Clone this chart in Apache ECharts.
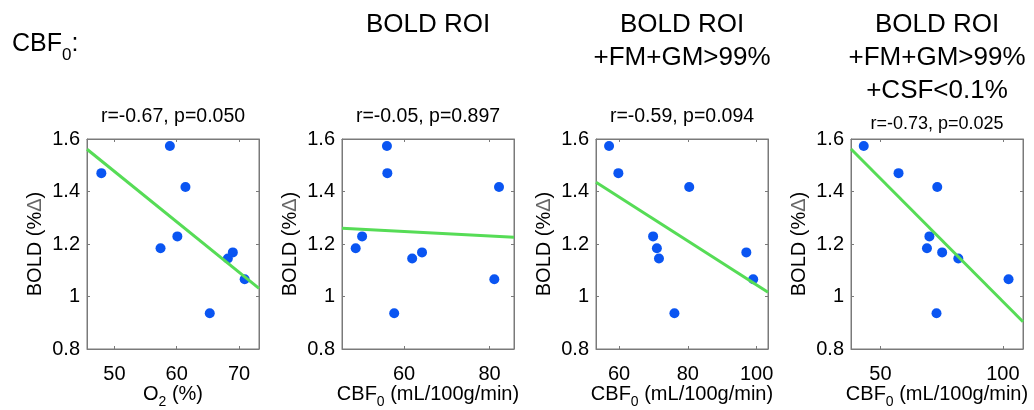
<!DOCTYPE html>
<html><head><meta charset="utf-8">
<script src="https://cdn.jsdelivr.net/npm/echarts@6/dist/echarts.min.js"></script>
<style>html,body{margin:0;padding:0;background:#fff}#c{width:1034px;height:410px}</style>
</head><body><div id="c"></div>
<script>
// BOLD response (% change) for the 9 subjects, same order in every panel
const boldY   = [1.573, 1.470, 1.417, 1.229, 1.184, 1.168, 1.145, 1.066, 0.936];
const boldY1  = [1.573, 1.470, 1.417, 1.229, 1.184, 1.168, 1.145, 1.066, 0.936];
// x values per panel
const o2X     = [58.9, 47.9, 61.4, 60.1, 57.4, 69.0, 68.2, 70.9, 65.3];
const cbfRoiX = [56.0, 56.1, 82.2, 50.2, 48.7, 64.2, 61.9, 81.1, 57.7];
const cbfGmX  = [57.1, 59.8, 80.4, 69.9, 71.0, 97.0, 71.6, 99.0, 76.1];
const cbfCsfX = [43.2, 57.4, 73.2, 70.0, 69.0, 75.2, 81.8, 102.3, 72.9];
// fitted regression lines (endpoints)
const fit1X = [45.6, 73.2],  fit1Y = [1.561, 1.031];
const fit2X = [45.5, 85.7],  fit2Y = [1.260, 1.226];
const fit3X = [53.3, 103.3], fit3Y = [1.435, 1.016];
const fit4X = [38.0, 108.2], fit4Y = [1.562, 0.904];
// axis ranges & ticks
const xMin = [45.6, 45.5, 53.3, 38.0];
const xMax = [73.2, 85.7, 103.3, 108.2];
const xTicks1 = [50, 60, 70];
const xTicks2 = [60, 80];
const xTicks3 = [60, 80, 100];
const xTicks4 = [50, 100];
const yTicks = [0.8, 1, 1.2, 1.4, 1.6];
const yMin = 0.8, yMax = 1.6;
// texts
const statLabels = ['r=-0.67, p=0.050', 'r=-0.05, p=0.897', 'r=-0.59, p=0.094', 'r=-0.73, p=0.025'];
const panelTitles = ['', 'BOLD ROI', 'BOLD ROI\n+FM+GM>99%', 'BOLD ROI\n+FM+GM>99%\n+CSF<0.1%'];
const xNameMain = ['O', 'CBF', 'CBF', 'CBF'];
const xNameSub = ['2', '0', '0', '0'];
const xNameRest = [' (%)', ' (mL/100g/min)', ' (mL/100g/min)', ' (mL/100g/min)'];

const xs = [o2X, cbfRoiX, cbfGmX, cbfCsfX];
const ys = [boldY1, boldY, boldY, boldY];
const fitXs = [fit1X, fit2X, fit3X, fit4X];
const fitYs = [fit1Y, fit2Y, fit3Y, fit4Y];
const xTickSets = [xTicks1, xTicks2, xTicks3, xTicks4];

const FONT = '"Liberation Sans", Arial, Helvetica, sans-serif';
const BOX = '#7a7a7a';
const BLUE = '#0a55f2';
const GREEN = '#56dc56';
const gridLefts = [87, 342, 596, 851];
const GW = 172, GT = 139, GH = 210;

const grid = [], xAxis = [], yAxis = [], series = [], graphic = [];
for (let i = 0; i < 4; i++) {
  grid.push({left: gridLefts[i], top: GT, width: GW, height: GH, show: true,
    borderColor: BOX, borderWidth: 1, backgroundColor: '#fff', containLabel: false,
    outerBoundsMode: 'none'});
  const commonX = {type: 'value', gridIndex: i, min: xMin[i], max: xMax[i], splitLine: {show: false},
    axisLine: {show: true, onZero: false, lineStyle: {color: BOX, width: 1}}};
  xAxis.push(Object.assign({}, commonX, {
    position: 'bottom',
    axisTick: {show: true, inside: true, length: 3, customValues: xTickSets[i], lineStyle: {color: BOX}},
    axisLabel: {show: true, customValues: xTickSets[i], color: '#000', fontSize: 20, fontFamily: FONT, margin: 15},
    name: '{m|' + xNameMain[i] + '}{s|' + xNameSub[i] + '}{m|' + xNameRest[i] + '}',
    nameLocation: 'middle', nameGap: 30, nameMoveOverlap: false,
    nameTextStyle: {color: '#000', fontFamily: FONT, rich: {
      m: {fontSize: 20, lineHeight: 30, fontFamily: FONT, color: '#000'},
      s: {fontSize: 14, lineHeight: 10, verticalAlign: 'bottom', fontFamily: FONT, color: '#000'}}}
  }));
  xAxis.push(Object.assign({}, commonX, {
    position: 'top',
    axisTick: {show: true, inside: true, length: 3, customValues: xTickSets[i], lineStyle: {color: BOX}},
    axisLabel: {show: false}
  }));
  const commonY = {type: 'value', gridIndex: i, min: yMin, max: yMax, splitLine: {show: false},
    axisLine: {show: true, onZero: false, lineStyle: {color: BOX, width: 1}}};
  yAxis.push(Object.assign({}, commonY, {
    position: 'left',
    axisTick: {show: true, inside: true, length: 3, customValues: yTicks, lineStyle: {color: BOX}},
    axisLabel: {show: true, customValues: yTicks, color: '#000', fontSize: 20, fontFamily: FONT, margin: 7},
    name: '{m|BOLD (%}{d|Δ}{m|)}', nameLocation: 'middle', nameGap: 42, nameRotate: 90,
    nameMoveOverlap: false,
    nameTextStyle: {fontFamily: FONT, rich: {
      m: {fontSize: 20, fontFamily: FONT, color: '#000'},
      d: {fontSize: 20, fontFamily: FONT, color: '#666'}}}
  }));
  yAxis.push(Object.assign({}, commonY, {
    position: 'right',
    axisTick: {show: true, inside: true, length: 3, customValues: yTicks, lineStyle: {color: BOX}},
    axisLabel: {show: false}
  }));
  series.push({type: 'scatter', xAxisIndex: 2 * i, yAxisIndex: 2 * i, symbol: 'circle', symbolSize: 10,
    itemStyle: {color: BLUE, opacity: 1}, z: 2, silent: true,
    data: xs[i].map((x, k) => [x, ys[i][k]])});
  series.push({type: 'line', xAxisIndex: 2 * i, yAxisIndex: 2 * i, showSymbol: false, symbol: 'none',
    lineStyle: {color: GREEN, width: 3}, z: 3, silent: true, animation: false,
    data: fitXs[i].map((x, k) => [x, fitYs[i][k]])});
  const cx = gridLefts[i] + GW / 2;
  graphic.push({type: 'text', x: cx, y: i === 3 ? 124 : 117, style: {
    text: statLabels[i], fill: '#000', font: (i === 3 ? '18px ' : '19.5px ') + FONT,
    textAlign: 'center', textVerticalAlign: 'middle'}});
  if (panelTitles[i]) {
    graphic.push({type: 'text', x: cx, y: 8, style: {
      text: panelTitles[i], fill: '#000', font: '26px ' + FONT, lineHeight: 33,
      textAlign: 'center', textVerticalAlign: 'top'}});
  }
}
graphic.push({type: 'text', x: 12, y: 44, style: {
  text: '{a|CBF}{s|0}{a|:}', textAlign: 'left', textVerticalAlign: 'middle',
  rich: {a: {fontSize: 25, lineHeight: 40, fontFamily: FONT, fill: '#000', color: '#000'},
         s: {fontSize: 17, lineHeight: 17, verticalAlign: 'bottom', fontFamily: FONT, color: '#000'}}}});

const chart = echarts.init(document.getElementById('c'), null, {renderer: 'canvas'});
chart.setOption({animation: false, grid, xAxis, yAxis, series, graphic});
</script></body></html>
